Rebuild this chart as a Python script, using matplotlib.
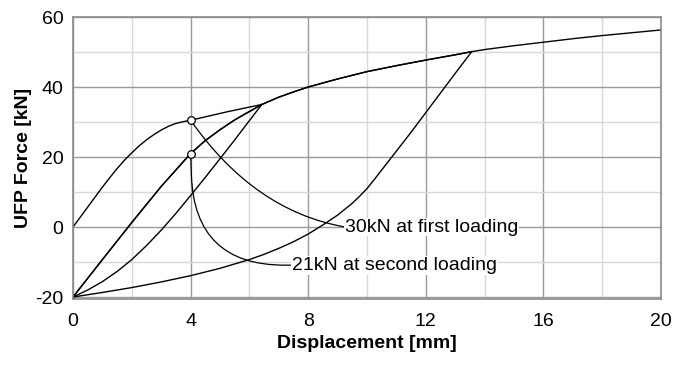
import numpy as np
import matplotlib.pyplot as plt
from matplotlib.ticker import MultipleLocator

plt.rcParams["font.family"] = ["Liberation Sans", "DejaVu Sans"]
plt.rcParams["axes.unicode_minus"] = False

# first loading (virgin curve) up to the first peak
load1_x = [0, 0.5, 1.0, 1.25, 1.5, 1.75, 2.0, 2.25, 2.5, 2.75, 3.0, 3.25, 3.5, 3.75, 4.0, 5.23, 6.42]
load1_y = [0, 5.7, 11.4, 14.1, 16.7, 19.1, 21.2, 23.2, 24.9, 26.4, 27.7, 28.8, 29.6, 30.1, 30.5, 32.9, 35.0]

# first unloading back to -20 kN
unload1_x = [6.42, 6.0, 5.5, 5.0, 4.5, 4.0, 3.5, 3.0, 2.5, 2.0, 1.5, 1.0, 0.5, 0]
unload1_y = [35.0, 30.4, 24.9, 19.5, 14.2, 9.0, 3.9, -0.9, -5.3, -9.3, -12.7, -15.6, -18.0, -20]

# reloading (second loading) up to the second peak
reload_x = [0, 1.0, 2.0, 3.0, 4.0, 4.5, 5.0, 5.5, 6.0, 6.42, 7.0, 7.5, 8.0, 9.0, 10.0, 11.0, 12.0, 13.0, 13.56]
reload_y = [-20, -9.3, 1.3, 11.6, 21.0, 24.7, 27.8, 30.6, 33.0, 35.0, 37.1, 38.6, 40.0, 42.3, 44.4, 46.1, 47.7, 49.2, 50.1]

# second unloading back to -20 kN
unload2_x = [13.56, 13.0, 12.5, 12.0, 11.5, 11.0, 10.5, 10.25, 10.0, 9.75, 9.5, 9.0, 8.5, 8.0,
             7.5, 7.0, 6.5, 6.0, 5.0, 4.0, 3.0, 2.0, 1.0, 0]
unload2_y = [50.1, 43.9, 38.3, 32.7, 27.1, 21.7, 16.3, 13.6, 11.0, 8.8, 6.8, 3.4, 0.6, -2.0,
             -4.2, -6.1, -7.8, -9.3, -11.8, -13.9, -15.7, -17.3, -18.7, -20]

# third loading follows the reloading path and continues
tail_x = [14.0, 15.0, 16.0, 17.0, 18.0, 19.0, 20.0]
tail_y = [50.7, 51.8, 52.8, 53.8, 54.7, 55.5, 56.3]
third_x = reload_x + tail_x
third_y = reload_y + tail_y

# marked points
mark_x = [4.0, 4.0]
mark_y = [30.5, 21.0]
labels = ["30kN at first loading", "21kN at second loading"]
label_x = [9.25, 7.44]
label_y = [0.0, -10.9]

fig = plt.figure(figsize=(6.73, 3.65), dpi=100)
ax = fig.add_axes([0.1085, 0.1808, 0.8737, 0.7726])

lw = 1.0
ax.plot(load1_x, load1_y, color="black", linewidth=lw)
ax.plot(unload1_x, unload1_y, color="black", linewidth=lw)
ax.plot(reload_x, reload_y, color="black", linewidth=lw)
ax.plot(unload2_x, unload2_y, color="black", linewidth=lw)
ax.plot(third_x, third_y, color="black", linewidth=lw)

styles = ["angle3,angleA=-10,angleB=-55", "angle,angleA=0,angleB=-88,rad=90"]
for i in range(2):
    ax.annotate(labels[i], xy=(mark_x[i], mark_y[i]), xytext=(label_x[i], label_y[i]),
                fontsize=14, ha="left", va="center",
                bbox=dict(boxstyle="square,pad=0.05", fc="white", ec="none"),
                arrowprops=dict(arrowstyle="-", color="black", linewidth=0.9,
                                shrinkA=0, shrinkB=0, relpos=(0, 0.5),
                                connectionstyle=styles[i]))

ax.plot(mark_x, mark_y, "o", markersize=5.5, markerfacecolor="white",
        markeredgecolor="black", markeredgewidth=0.9, zorder=6, linestyle="none")

ax.set_xlim(0, 20)
ax.set_ylim(-20.57, 60)
ax.xaxis.set_major_locator(MultipleLocator(4))
ax.xaxis.set_minor_locator(MultipleLocator(2))
ax.yaxis.set_major_locator(MultipleLocator(20))
ax.yaxis.set_minor_locator(MultipleLocator(10))
ax.grid(which="major", color="#9a9a9a", linewidth=1.0)
ax.grid(which="minor", color="#d8d8d8", linewidth=1.0)
ax.set_axisbelow(True)
ax.tick_params(which="both", length=0, labelsize=14)
ax.tick_params(axis="x", pad=10)
ax.tick_params(axis="y", pad=7)
for s in ax.spines.values():
    s.set_color("#8a8a8a")
    s.set_linewidth(1.2)

ax.set_xlabel("Displacement [mm]", fontsize=14, fontweight="bold", labelpad=4)
ax.set_ylabel("UFP Force [kN]", fontsize=14, fontweight="bold", labelpad=2)

fig.savefig("out.png", dpi=100)
